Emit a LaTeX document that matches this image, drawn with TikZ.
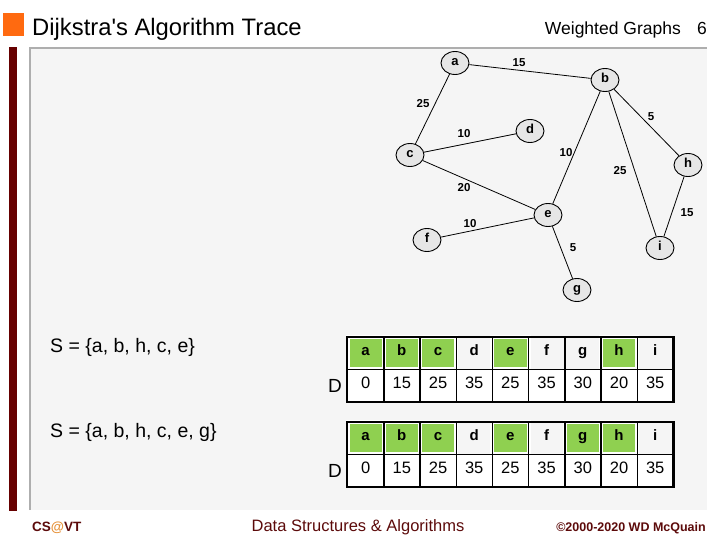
\documentclass[tikz,border=0pt]{standalone}
\usepackage{fontspec}
\setmainfont{Liberation Sans}
\usetikzlibrary{shapes.geometric}
\definecolor{panelbg}{HTML}{F5F5F5}
\definecolor{nodegray}{HTML}{E6E6E6}
\definecolor{cellgreen}{HTML}{8FD050}
\definecolor{maroon}{HTML}{660000}
\definecolor{footred}{HTML}{5C0A0A}
\definecolor{vtorange}{HTML}{FF6A10}
\definecolor{atorange}{HTML}{E69138}
\definecolor{rulegray}{HTML}{AEAEAE}
\newcommand{\fs}[1]{\fontsize{#1}{#1}\selectfont}
\tikzset{
  vert/.style={ellipse, draw, line width=0.9pt, fill=nodegray, minimum width=28pt, minimum height=23pt, inner sep=0pt, text height=0.72em, text depth=0.2em, font=\bfseries\fs{13}},
  edge/.style={line width=0.8pt},
  wt/.style={font=\bfseries\fs{11.5}, inner sep=0pt},
  hcell/.style={minimum width=36.2pt, minimum height=32pt, inner sep=0pt, text height=0.72em, text depth=0.2em, font=\bfseries\fs{15}},
  dcell/.style={minimum width=36.2pt, minimum height=33pt, inner sep=0pt, text height=0.72em, text depth=0.1em, font=\fs{16.5}},
  green/.style={fill=cellgreen, draw=white, line width=4pt},
  grid/.style={line width=1.3pt},
  outer/.style={line width=2.2pt},
}
\begin{document}
\begin{tikzpicture}[x=1pt,y=-1pt]
\useasboundingbox (0,0) rectangle (720,540);
% frame
\fill[panelbg] (30,48) rectangle (707,510);
\draw[rulegray, line width=2pt] (29.5,510) -- (29.5,48) -- (707,48);
\fill[maroon] (9,47) rectangle (17,511);
\fill[vtorange] (3,13) rectangle (24,36);
% header
\node[anchor=base west, inner sep=0pt, font=\fs{23.8}] (title) at (32,36) {Dijkstra\textquotesingle s Algorithm Trace};
\node[anchor=base east, inner sep=0pt, font=\fs{17.5}] (sect) at (681,35) {Weighted Graphs};
\node[anchor=base east, inner sep=0pt, font=\fs{17.5}] (pnum) at (707,35) {6};
% footer
\node[anchor=base west, inner sep=0pt, font=\bfseries\fs{13.5}, text=footred] (csvt) at (32,531) {CS{\color{atorange}@}VT};
\node[anchor=base, inner sep=0pt, font=\fs{16.5}, text=footred] (course) at (358,531) {Data Structures \& Algorithms};
\node[anchor=base east, inner sep=0pt, font=\bfseries\fs{12.5}, text=footred] (copy) at (706,531) {©2000-2020 WD McQuain};
% graph
\node[vert] (a) at (455,63) {a};
\node[vert] (b) at (605,80) {b};
\node[vert] (d) at (530,131) {d};
\node[vert] (c) at (410,155) {c};
\node[vert] (h) at (688,165) {h};
\node[vert] (e) at (548,215) {e};
\node[vert] (f) at (427,240) {f};
\node[vert] (i) at (660,248) {i};
\node[vert] (g) at (577,290) {g};
\draw[edge] (a) -- (b);
\draw[edge] (a) -- (c);
\draw[edge] (c) -- (d);
\draw[edge] (c) -- (e);
\draw[edge] (b) -- (e);
\draw[edge] (b) -- (i);
\draw[edge] (b) -- (h);
\draw[edge] (h) -- (i);
\draw[edge] (f) -- (e);
\draw[edge] (e) -- (g);
\node[wt] (wab) at (519,63) {15};
\node[wt] (wac) at (423,104) {25};
\node[wt] (wbh) at (651,117) {5};
\node[wt] (wcd) at (464,134) {10};
\node[wt] (wbe) at (566,153) {10};
\node[wt] (wbi) at (620,171) {25};
\node[wt] (wce) at (464,188) {20};
\node[wt] (whi) at (687,213) {15};
\node[wt] (wfe) at (470,224) {10};
\node[wt] (weg) at (573,248) {5};
% sets
\node[anchor=base west, inner sep=0pt, font=\fs{19.5}] (s1) at (50,352) {S = \{a, b, h, c, e\}};
\node[anchor=base west, inner sep=0pt, font=\fs{19.5}] (s2) at (50,437) {S = \{a, b, h, c, e, g\}};
% tables
\foreach \t/\yh/\yd/\greens in {1/353/385.5/{1,2,3,5,8}, 2/438/470.5/{1,2,3,5,7,8}} {
  \foreach \k/\lab/\val in {1/a/0,2/b/15,3/c/25,4/d/35,5/e/25,6/f/35,7/g/30,8/h/20,9/i/35} {
    \node[hcell] (t\t h\k) at ({347.5+(\k-0.5)*36.2},\yh) {};
    \node[dcell, fill=white] (t\t d\k) at ({347.5+(\k-0.5)*36.2},\yd) {\val};
  }
  \foreach \k in \greens {
    \node[hcell, green] at (t\t h\k) {};
  }
  \foreach \k/\lab in {1/a,2/b,3/c,4/d,5/e,6/f,7/g,8/h,9/i} {
    \node[hcell] at (t\t h\k) {\lab};
  }
  \draw[grid] (t\t h1.south west) -- (t\t h9.south east);
  \foreach \k in {1,...,8} {
    \draw[grid] (t\t h\k.north east) -- (t\t d\k.south east);
  }
  \draw[outer] (t\t h1.north west) rectangle (t\t d9.south east);
  \node[anchor=east, inner sep=0pt, font=\fs{19}] (D\t) at (342,\yd) {D};
}
\end{tikzpicture}
\end{document}
